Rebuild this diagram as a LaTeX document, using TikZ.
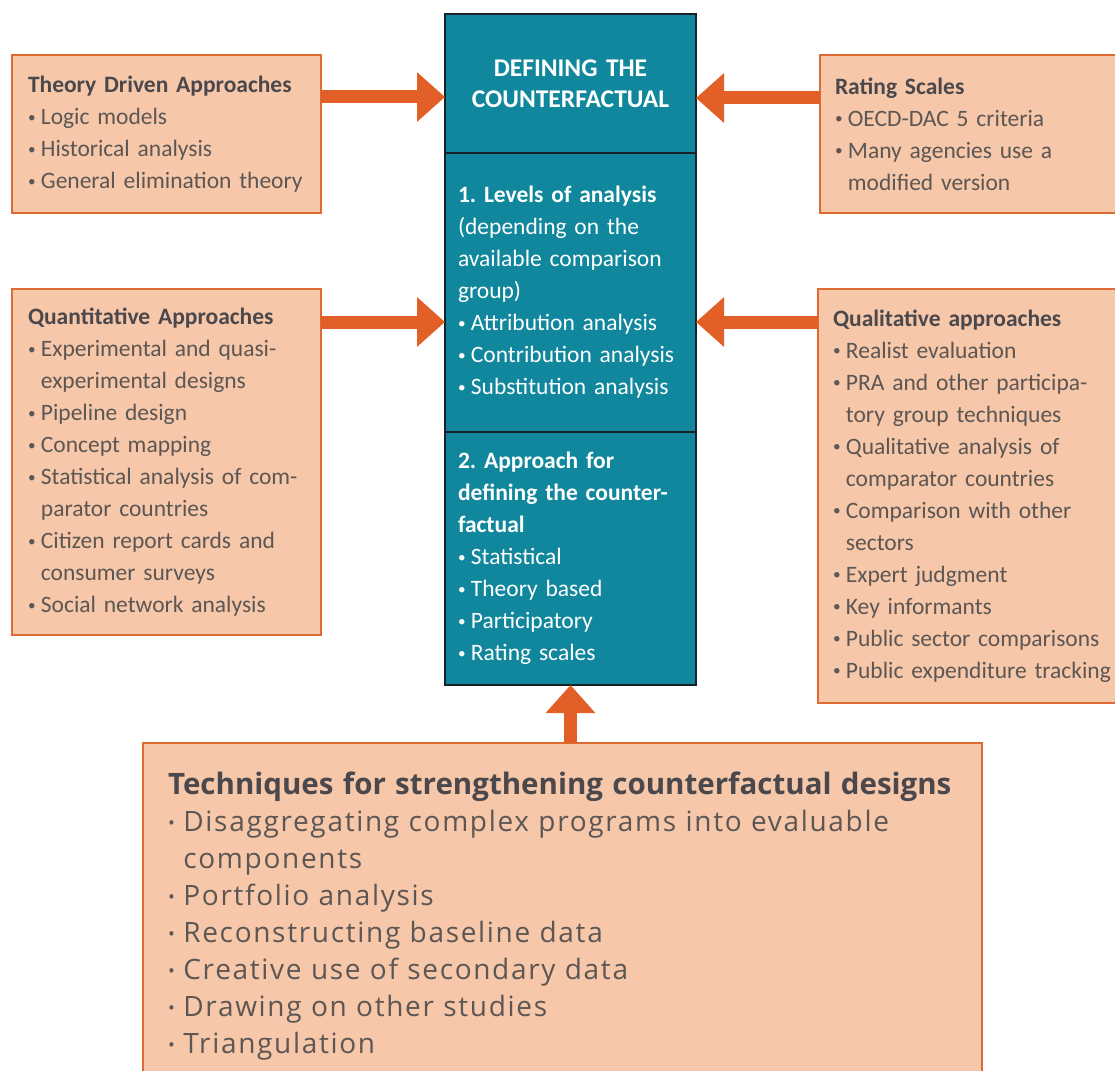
\documentclass[tikz,border=0pt]{standalone}
\usepackage{fontspec}
\setmainfont{Carlito}
\newfontfamily\widefont[LetterSpace=6]{Open Sans}
\newfontfamily\wideheadfont{Open Sans}
\usetikzlibrary{positioning,arrows.meta}
\definecolor{peachfill}{RGB}{246,199,168}
\definecolor{peachedge}{RGB}{222,106,52}
\definecolor{arrowfill}{RGB}{226,96,40}
\definecolor{tealfill}{RGB}{16,135,156}
\definecolor{tealedge}{RGB}{26,32,42}
\definecolor{ink}{RGB}{92,86,84}
\definecolor{inkhead}{RGB}{74,72,76}
\newcommand{\bitem}{\makebox[0.55em][l]{\raisebox{0.1em}{\scalebox{0.65}{\textbullet}}}}
\newcommand{\bcont}{\hspace*{0.55em}}
\newcommand{\hd}[1]{{\bfseries\color{inkhead}#1}}
\frenchspacing
\begin{document}
\begin{tikzpicture}[x=1pt,y=-1pt,
  card/.style={draw=peachedge,line width=2.5pt,fill=peachfill,text=ink,anchor=north west,
    align=left,inner ysep=0pt,outer sep=0pt,font=\fontsize{23.5}{32}\selectfont},
  core/.style={draw=tealedge,line width=2.5pt,fill=tealfill,text=white,align=left,
    inner xsep=13pt,inner ysep=0pt,outer sep=0pt,minimum width=251pt,text width=225pt,
    font=\fontsize{23.5}{32}\selectfont},
  push/.style={draw=arrowfill,line width=13pt,-{Triangle[width=48pt,length=28pt]}}]
\path[use as bounding box,fill=white] (0,0) rectangle (1115,1070);
\node[core,align=center,minimum height=139pt,anchor=north west,
  font=\fontsize{25.5}{31}\selectfont\bfseries] (head) at (445,14)
  {DEFINING THE\\ COUNTERFACTUAL};
\node[core,minimum height=279pt,below=0pt of head] (levels)
  {\textbf{1. Levels of analysis}\\ (depending on the\\ available comparison\\ group)\\
   \bitem Attribution analysis\\ \bitem Contribution analysis\\ \bitem Substitution analysis};
\node[core,minimum height=253pt,below=0pt of levels] (approach)
  {\textbf{2. Approach for}\\ \textbf{defining the counter-}\\ \textbf{factual}\\
   \bitem Statistical\\ \bitem Theory based\\ \bitem Participatory\\ \bitem Rating scales};
\node[card,minimum width=309pt,minimum height=158pt,text width=277pt,inner xsep=16pt] (theory) at (12,55)
  {\hd{Theory Driven Approaches}\\ \bitem Logic models\\ \bitem Historical analysis\\
   \bitem General elimination theory};
\node[card,minimum width=309pt,minimum height=346pt,text width=277pt,inner xsep=16pt] (quant) at (12,289)
  {\hd{Quantitative Approaches}\\ \bitem Experimental and quasi-\\ \bcont experimental designs\\
   \bitem Pipeline design\\ \bitem Concept mapping\\ \bitem Statistical analysis of com-\\
   \bcont parator countries\\ \bitem Citizen report cards and\\ \bcont consumer surveys\\
   \bitem Social network analysis};
\node[card,minimum width=330pt,minimum height=158pt,text width=300pt,inner xsep=15pt] (rating) at (820,55)
  {\hd{Rating Scales}\\ \bitem OECD-DAC 5 criteria\\ \bitem Many agencies use a\\
   \bcont modified version};
\node[card,minimum width=332pt,minimum height=414pt,text width=302pt,inner xsep=15pt] (qual) at (818,289)
  {\hd{Qualitative approaches}\\ \bitem Realist evaluation\\ \bitem PRA and other participa-\\
   \bcont tory group techniques\\ \bitem Qualitative analysis of\\ \bcont comparator countries\\
   \bitem Comparison with other\\ \bcont sectors\\ \bitem Expert judgment\\ \bitem Key informants\\
   \bitem Public sector comparisons\\ \bitem Public expenditure tracking};
\node[card,minimum width=839pt,minimum height=347pt,text width=789pt,inner xsep=25pt,
  font=\widefont\fontsize{28}{37}\selectfont] (tech) at (143,743)
  {{\wideheadfont\fontsize{29.5}{37}\selectfont\hd{Techniques for strengthening counterfactual designs}}\\
   \bitem Disaggregating complex programs into evaluable\\ \bcont components\\
   \bitem Portfolio analysis\\ \bitem Reconstructing baseline data\\
   \bitem Creative use of secondary data\\ \bitem Drawing on other studies\\ \bitem Triangulation};
\draw[push] ([yshift=-42pt]theory.north east) -- ([yshift=-42pt]theory.north east -| head.west);
\draw[push] ([yshift=-43pt]rating.north west) -- ([yshift=-43pt]rating.north west -| head.east);
\draw[push] ([yshift=-33pt]quant.north east) -- ([yshift=-33pt]quant.north east -| levels.west);
\draw[push] ([yshift=-33pt]qual.north west) -- ([yshift=-33pt]qual.north west -| levels.east);
\draw[push] (approach.south |- tech.north) -- (approach.south);
\end{tikzpicture}
\end{document}
